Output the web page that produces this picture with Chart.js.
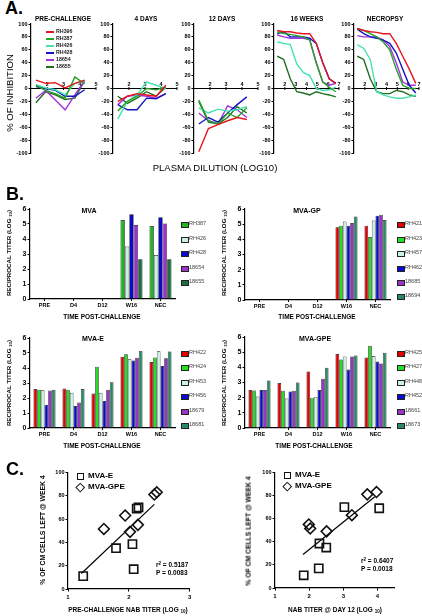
<!DOCTYPE html>
<html>
<head>
<meta charset="utf-8">
<script src="https://cdn.jsdelivr.net/npm/chart.js@4.4.1/dist/chart.umd.min.js"></script>
<style>
  body { margin: 0; background: #fff; }
  #fig { position: relative; width: 422px; height: 616px; overflow: hidden; background: #fff;
         font-family: "Liberation Sans", Arial, sans-serif; color: #000; }
  #fig canvas { position: absolute; }
  .t { position: absolute; white-space: nowrap; line-height: 1; }
  .t sub { font-size: 70%; vertical-align: -0.25em; }
  .t sup { font-size: 70%; vertical-align: 0.45em; }
  .sw { position: absolute; }
</style>
</head>
<body>
<div id="fig"></div>
<script>
// -------- DATA: A. % inhibition vs plasma dilution --------
const ANIMALS_A = ['RH396', 'RH387', 'RH426', 'RH428', '18654', '18655'];
const COLORS_A = ['#e8141e', '#26a026', '#44e2b0', '#1414c4', '#a333dd', '#1f6f1f'];
const DIL_SHORT = [1.3, 1.9, 2.5, 3.1, 3.7, 4.3];
const DIL_LONG = [1.3, 1.9, 2.5, 3.1, 3.7, 4.3, 4.9, 5.5, 6.1, 6.7];

const INH_PRE = [
  [13, 8, 9, 1, 8, 13],
  [5, -3, -8, -15, 18, 7],
  [6, 1, -2, -10, 8, 12],
  [3, 0, -3, -12, -12, -2],
  [-15, -3, -18, -33, -10, 12],
  [-22, -5, -10, -17, -15, 12]
];
const INH_D4 = [
  [-20, -12, -8, -10, -12, 5],
  [-35, -20, -12, 0, -2, 2],
  [-47, -20, -10, 10, 5, 0],
  [-25, -33, -33, -15, -16, -8],
  [-25, -12, -10, -12, -15, -8],
  [-12, -23, -15, -5, -12, 2]
];
const INH_D12 = [
  [-98, -62, -56, -50, -45, -48],
  [-18, -50, -55, -38, -45, -30],
  [-30, -38, -32, -35, -33, -28],
  [-55, -45, -52, -38, -25, -13],
  [-38, -50, -55, -27, -33, -45],
  [-20, -52, -55, -45, -28, -38]
];
const INH_W16 = [
  [90, 88, 88, 86, 85, 85, 70, 40, 15, 8],
  [88, 85, 84, 82, 80, 75, 40, 10, 2, -5],
  [72, 70, 68, 38, 25, 20, 0, -3, -2, 2],
  [85, 88, 80, 80, 80, 78, 70, 40, 15, 8],
  [83, 80, 78, 78, 78, 76, 40, 10, 5, 8],
  [50, 45, 15, -5, -7, -10, -5, -8, -10, -13]
];
const INH_NEC = [
  [93, 90, 88, 87, 85, 85, 70, 50, 30, 8],
  [93, 90, 85, 80, 72, 60, 30, 5, 0, 0],
  [68, 62, 45, -5, -10, -13, -15, -15, -13, -10],
  [92, 85, 80, 78, 75, 70, 55, 30, 5, -7],
  [82, 80, 80, 80, 75, 65, 40, 10, 5, 5],
  [50, 45, 15, -5, -8, -8, -3, -5, -10, -12]
];

// -------- DATA: B. reciprocal titers --------
const TIMEPOINTS = ['PRE', 'D4', 'D12', 'W16', 'NEC'];

const MVA_ANIMALS = ['RH387', 'RH426', 'RH428', '18654', '18655'];
const MVA_COLORS = ['#22b422', '#c9f2e2', '#0a0acc', '#9a32cc', '#1e7040'];
const MVA_TITER = [
  [null, null, null, 5.27, 4.87],
  [null, null, null, 3.5, 2.93],
  [null, null, null, 5.65, 5.45],
  [null, null, null, 4.93, 5.04],
  [null, null, null, 2.65, 2.65]
];

const GRP_COLORS = ['#e00000', '#22e022', '#c9f2e2', '#0a0acc', '#9a32cc', '#2a8a66'];

const MVA_GP_ANIMALS = ['RH421', 'RH423', 'RH457', 'RH462', '18685', '18694'];
const MVA_GP_TITER = [
  [null, null, null, 4.8, 4.9],
  [null, null, null, 4.9, 4.15],
  [null, null, null, 5.18, 5.24],
  [null, null, null, 4.9, 5.56],
  [null, null, null, 5.07, 5.62],
  [null, null, null, 5.5, 5.27]
];

const MVA_E_ANIMALS = ['RH422', 'RH424', 'RH453', 'RH456', '18679', '18681'];
const MVA_E_TITER = [
  [2.6, 2.63, 2.3, 4.75, 4.4],
  [2.55, 2.55, 4.08, 4.92, 4.7],
  [2.52, 2.35, 2.35, 4.58, 5.12],
  [1.55, 1.47, 1.8, 4.5, 4.13],
  [2.5, 1.7, 2.55, 4.68, 4.65],
  [2.55, 2.6, 3.05, 5.14, 5.1]
];

const MVA_GPE_ANIMALS = ['RH425', 'RH427', 'RH448', 'RH452', '18661', '18673'];
const MVA_GPE_TITER = [
  [2.5, 2.96, 3.72, 4.88, 4.65],
  [2.48, 2.45, 2.0, 4.52, 5.42],
  [2.08, 1.95, 2.05, 4.72, 4.74],
  [2.5, 2.4, 2.5, 3.85, 4.38],
  [2.5, 2.45, 3.25, 4.72, 4.26],
  [3.14, 3.0, 3.97, 4.78, 4.96]
];

// -------- DATA: C. CM cells left vs NAb titer --------
const CM_LEFT_E = [11, 17, 35, 38.5, 69, 70];
const PRE_NAB_E = [1.25, 2.08, 1.79, 2.06, 2.13, 2.16];
const D12_NAB_E = [1.84, 2.28, 2.5, 2.3, 4.05, 3.03];
const CM_LEFT_GPE = [49, 51.5, 55, 63, 81, 83];
const PRE_NAB_GPE = [2.02, 1.59, 2.15, 1.94, 2.42, 2.46];
const D12_NAB_GPE = [2.51, 2.03, 1.99, 3.25, 3.7, 3.97];
const FIT_PRE_X = [1.22, 2.42];
const FIT_PRE_Y = [13.3, 72.6];
const FIT_D12_X = [1.82, 3.92];
const FIT_D12_Y = [29, 79];

// -------- HELPERS --------
const FONT = '"Liberation Sans", Arial, sans-serif';
Chart.defaults.font.family = FONT;
Chart.defaults.color = '#000';

const fig = document.getElementById('fig');
const PAD = 6;

// canvas sized so that the chart area lands on [left, top, right, bottom]
function canvasFor(area, yw, xh) {
  const c = document.createElement('canvas');
  const w = Math.round(area[2] - area[0] + yw + 2 * PAD);
  const h = Math.round(area[3] - area[1] + xh + 2 * PAD);
  c.width = w;
  c.height = h;
  c.style.width = w + 'px';
  c.style.height = h + 'px';
  c.style.left = (area[0] - yw - PAD) + 'px';
  c.style.top = (area[1] - PAD) + 'px';
  fig.appendChild(c);
  return c;
}

function label(html, x, y, size, opts = {}) {
  const d = document.createElement('div');
  d.className = 't';
  d.innerHTML = html;
  d.style.fontSize = size + 'px';
  d.style.fontWeight = opts.weight || 'bold';
  if (opts.color) d.style.color = opts.color;
  d.style.left = x + 'px';
  d.style.top = y + 'px';
  const tx = opts.align === 'left' ? '0' : '-50%';
  d.style.transform = `translate(${tx},-50%)` + (opts.rotate ? ' rotate(-90deg)' : '');
  fig.appendChild(d);
}

function swatch(x, y, w, h, css) {
  const d = document.createElement('div');
  d.className = 'sw';
  d.style.left = (x - w / 2) + 'px';
  d.style.top = (y - h / 2) + 'px';
  d.style.width = w + 'px';
  d.style.height = h + 'px';
  Object.assign(d.style, css);
  fig.appendChild(d);
}

function yAxis(min, max, step, yw, size) {
  return {
    min, max,
    ticks: { stepSize: step, font: { size, weight: 'bold' }, color: '#000', padding: 1 },
    grid: { drawOnChartArea: false, tickLength: 2.5, color: '#000', lineWidth: 1 },
    border: { color: '#000', width: 1.2 },
    afterFit: s => { s.width = yw; }
  };
}

const base = {
  responsive: false,
  animation: false,
  devicePixelRatio: 1,
  layout: { padding: PAD },
  plugins: { legend: { display: false }, tooltip: { enabled: false } }
};

// x axis of panel A sits on y = 0 with its numbers above it
const zeroAxis = {
  id: 'zeroAxis',
  beforeDatasetsDraw(chart) {
    const { ctx, chartArea, scales } = chart;
    const y0 = scales.y.getPixelForValue(0);
    ctx.save();
    ctx.strokeStyle = '#000';
    ctx.fillStyle = '#000';
    ctx.lineWidth = 1.2;
    ctx.beginPath();
    ctx.moveTo(chartArea.left, y0);
    ctx.lineTo(chartArea.right, y0);
    ctx.stroke();
    ctx.lineWidth = 1;
    ctx.font = 'bold 5.5px ' + FONT;
    ctx.textAlign = 'center';
    ctx.textBaseline = 'bottom';
    for (let v = 2; v <= scales.x.max; v++) {
      const x = scales.x.getPixelForValue(v);
      ctx.beginPath();
      ctx.moveTo(x, y0 - 1.5);
      ctx.lineTo(x, y0 + 1.5);
      ctx.stroke();
      ctx.fillText(String(v), x, y0 - 1.5);
    }
    ctx.restore();
  }
};

function inhibitionChart(area, xs, rows, xmax) {
  new Chart(canvasFor(area, 17, 0), {
    type: 'line',
    data: {
      datasets: rows.map((r, i) => ({
        label: ANIMALS_A[i],
        data: r.map((v, j) => ({ x: xs[j], y: v })),
        borderColor: COLORS_A[i],
        borderWidth: 1.4,
        pointRadius: 0,
        tension: 0,
        fill: false
      }))
    },
    options: {
      ...base,
      scales: {
        x: { type: 'linear', min: 1, max: xmax, display: false },
        y: yAxis(-100, 100, 20, 17, 5.5)
      }
    },
    plugins: [zeroAxis]
  });
}

function titerChart(area, names, colors, values) {
  new Chart(canvasFor(area, 12, 10), {
    type: 'bar',
    data: {
      labels: TIMEPOINTS,
      datasets: names.map((n, i) => ({
        label: n,
        data: values[i],
        backgroundColor: colors[i],
        borderColor: '#1a1a1a',
        borderWidth: 0.7,
        categoryPercentage: 0.76,
        barPercentage: 1
      }))
    },
    options: {
      ...base,
      scales: {
        x: {
          ticks: { font: { size: 5.5, weight: 'bold' }, color: '#000', padding: 1, maxRotation: 0, autoSkip: false },
          grid: { drawOnChartArea: false, offset: false, tickLength: 2, color: '#000' },
          border: { color: '#000', width: 1.2 },
          afterFit: s => { s.height = 10; }
        },
        y: yAxis(0, 6, 1, 12, 7)
      }
    }
  });
}

function titerLegend(x, rows, names, colors) {
  names.forEach((n, i) => {
    swatch(x, rows[i], 6, 4.5, { background: colors[i], border: '0.7px solid #222' });
    label(n, x + 5, rows[i], 5.5, { align: 'left', weight: 'normal', color: '#444' });
  });
}

function cmChart(area, xmax, ex, ey, gx, gy, fx, fy) {
  const pts = (xs, ys) => xs.map((x, i) => ({ x, y: ys[i] }));
  new Chart(canvasFor(area, 14, 12), {
    type: 'scatter',
    data: {
      datasets: [
        { label: 'MVA-E', data: pts(ex, ey), pointStyle: 'rect', pointRadius: 5.8,
          borderColor: '#111', borderWidth: 1.6, backgroundColor: 'rgba(255,255,255,0)' },
        { label: 'MVA-GPE', data: pts(gx, gy), pointStyle: 'rectRot', pointRadius: 5.4,
          borderColor: '#111', borderWidth: 1.6, backgroundColor: 'rgba(255,255,255,0)' },
        { label: 'fit', data: pts(fx, fy), showLine: true, pointRadius: 0,
          borderColor: '#000', borderWidth: 1.2 }
      ]
    },
    options: {
      ...base,
      scales: {
        x: {
          type: 'linear', min: 1, max: xmax,
          ticks: { stepSize: 1, includeBounds: false, font: { size: 6, weight: 'bold' }, color: '#000', padding: 2 },
          grid: { drawOnChartArea: false, tickLength: 2.5, color: '#000' },
          border: { color: '#000', width: 1.2 },
          afterFit: s => { s.height = 12; }
        },
        y: yAxis(0, 100, 20, 14, 5.5)
      }
    }
  });
}

function cmLegend(x, y) {
  swatch(x, y, 7, 7, { border: '1.5px solid #111', boxSizing: 'border-box' });
  label('MVA-E', x + 8, y, 8, { align: 'left' });
  swatch(x, y + 11, 6.5, 6.5, { border: '1.5px solid #111', boxSizing: 'border-box', transform: 'rotate(45deg)' });
  label('MVA-GPE', x + 8, y + 11, 8, { align: 'left' });
}

// -------- PANEL A --------
label('A.', 14, 8, 18);
inhibitionChart([31, 24, 96, 153], DIL_SHORT, INH_PRE, 5);
inhibitionChart([113, 24, 177, 153], DIL_SHORT, INH_D4, 5);
inhibitionChart([194, 24, 258, 153], DIL_SHORT, INH_D12, 5);
inhibitionChart([274, 24, 339, 153], DIL_LONG, INH_W16, 7);
inhibitionChart([354, 24, 419, 153], DIL_LONG, INH_NEC, 7);

label('PRE-CHALLENGE', 63, 19, 6.5);
label('4 DAYS', 146, 19, 6.5);
label('12 DAYS', 222, 19, 6.5);
label('16 WEEKS', 307, 19, 6.5);
label('NECROPSY', 385, 19, 6.5);

ANIMALS_A.forEach((n, i) => {
  const y = 32 + i * 7;
  swatch(49.5, y, 8, 1.6, { background: COLORS_A[i] });
  label(n, 56, y, 5.3, { align: 'left', color: '#222' });
});

label('% OF INHIBITION', 10, 93, 9.5, { rotate: true, weight: 'normal' });
label('PLASMA DILUTION (LOG10)', 215, 168, 9.5, { weight: 'normal' });

// -------- PANEL B --------
label('B.', 15, 194, 18);
titerChart([30, 209, 175, 299], MVA_ANIMALS, MVA_COLORS, MVA_TITER);
titerChart([244.5, 208.5, 389.5, 299], MVA_GP_ANIMALS, GRP_COLORS, MVA_GP_TITER);
titerChart([30, 338, 175, 427.6], MVA_E_ANIMALS, GRP_COLORS, MVA_E_TITER);
titerChart([244.5, 336.5, 389.5, 427.7], MVA_GPE_ANIMALS, GRP_COLORS, MVA_GPE_TITER);

label('MVA', 89, 210, 7);
label('MVA-GP', 307, 210, 7);
label('MVA-E', 93, 338, 7);
label('MVA-GPE', 315, 338, 7);

label('TIME POST-CHALLENGE', 102, 317, 6.5);
label('TIME POST-CHALLENGE', 317, 317, 6.5);
label('TIME POST-CHALLENGE', 102, 446, 6.5);
label('TIME POST-CHALLENGE', 314, 446, 6.5);

const YT = 'RECIPROCAL TITER (LOG <sub>10</sub>)';
label(YT, 10, 253, 6.2, { rotate: true });
label(YT, 225, 253, 6.2, { rotate: true });
label(YT, 10, 383, 6.2, { rotate: true });
label(YT, 225, 383, 6.2, { rotate: true });

titerLegend(184, [224, 239, 253, 268, 282], MVA_ANIMALS, MVA_COLORS);
titerLegend(400, [224, 239, 253, 268, 282, 296], MVA_GP_ANIMALS, GRP_COLORS);
titerLegend(184, [353, 367, 382, 396, 411, 425], MVA_E_ANIMALS, GRP_COLORS);
titerLegend(400, [353, 367, 382, 396, 411, 425], MVA_GPE_ANIMALS, GRP_COLORS);

// -------- PANEL C --------
label('C.', 15, 469, 18);
cmChart([68, 471, 191, 589], 3, PRE_NAB_E, CM_LEFT_E, PRE_NAB_GPE, CM_LEFT_GPE, FIT_PRE_X, FIT_PRE_Y);
cmChart([275, 471, 396, 588], 4.5, D12_NAB_E, CM_LEFT_E, D12_NAB_GPE, CM_LEFT_GPE, FIT_D12_X, FIT_D12_Y);

cmLegend(80, 476);
cmLegend(287, 475);

label('r<sup>2</sup> = 0.5187', 156, 565, 6.5, { align: 'left' });
label('P = 0.0083', 156, 573, 6.5, { align: 'left' });
label('r<sup>2</sup> = 0.6407', 361, 561, 6.5, { align: 'left' });
label('P = 0.0018', 361, 569, 6.5, { align: 'left' });

label('PRE-CHALLENGE NAB TITER (LOG <sub>10</sub>)', 128, 611, 6.5);
label('NAB TITER @ DAY 12 (LOG <sub>10</sub>)', 335, 611, 6.5);
label('% OF CM CELLS LEFT @ WEEK 4', 43, 530, 6.8, { rotate: true });
label('% OF CM CELLS LEFT @ WEEK 4', 249, 531, 6.8, { rotate: true });
</script>
</body>
</html>
